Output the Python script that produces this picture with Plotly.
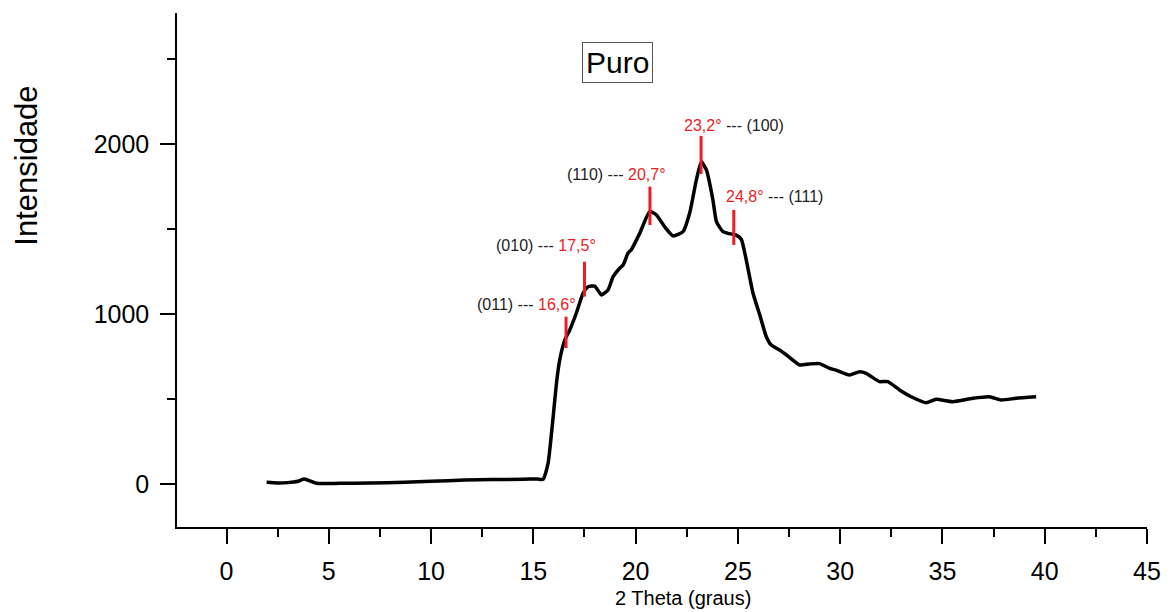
import plotly.graph_objects as go

# ---- data ----
two_theta = [1.96, 2.5, 3.0, 3.5, 3.8, 4.4, 5.5, 7.0, 8.7, 10.0, 11.65, 13.0, 14.5, 15.2, 15.48,
             15.72, 15.97, 16.13, 16.29, 16.54, 16.78, 17.1, 17.43, 17.68, 18.0, 18.33, 18.65,
             18.9, 19.22, 19.39, 19.63, 19.79, 20.2, 20.69, 21.02, 21.42, 21.83, 22.32, 22.64,
             22.97, 23.21, 23.46, 23.78, 23.95, 24.27, 24.51, 24.92, 25.17, 25.41, 25.74, 26.06,
             26.39, 26.63, 27.04, 27.37, 28.02, 28.5, 28.99, 29.48, 29.8, 30.46, 30.95, 31.27,
             31.92, 32.33, 32.9, 33.47, 34.21, 34.69, 35.5, 36.48, 37.3, 37.87, 38.6, 39.58]
intensity = [12, 8, 10, 18, 31, 6, 6, 8, 12, 18, 25, 28, 30, 31, 30,
             124, 398, 594, 731, 849, 908, 1006, 1124, 1162, 1166, 1114, 1143,
             1221, 1271, 1290, 1360, 1380, 1476, 1604, 1584, 1515, 1461, 1486, 1594,
             1790, 1898, 1849, 1672, 1545, 1486, 1476, 1466, 1440, 1319, 1124, 1000,
             868, 819, 790, 761, 702, 708, 710, 682, 672, 643, 662, 653,
             604, 604, 555, 515, 480, 500, 486, 506, 515, 496, 506, 515]

peak_pos = [16.6, 17.5, 20.7, 23.2, 24.8]
peak_deg = ["16,6°", "17,5°", "20,7°", "23,2°", "24,8°"]
peak_hkl = ["(011)", "(010)", "(110)", "(100)", "(111)"]
mark_low = [802, 1104, 1525, 1825, 1408]
mark_high = [986, 1309, 1751, 2049, 1614]
label_x = [17.17, 18.15, 21.57, 22.25, 24.3]
label_y = [1055, 1404, 1820, 2113, 1690]
label_side = ["left", "left", "left", "right", "right"]

RED = "#ec1c24"
FONT = "Liberation Sans, Arial, sans-serif"

fig = go.Figure()
fig.add_trace(go.Scatter(x=two_theta, y=intensity, mode="lines",
                         line=dict(color="black", width=3.5, shape="spline", smoothing=0.5),
                         showlegend=False))

for p, lo, hi in zip(peak_pos, mark_low, mark_high):
    fig.add_shape(type="line", xref="x", yref="y", x0=p, x1=p, y0=lo, y1=hi,
                  line=dict(color=RED, width=3))

for deg, hkl, lx, ly, side in zip(peak_deg, peak_hkl, label_x, label_y, label_side):
    if side == "left":
        txt = f"{hkl} --- <span style='color:{RED}'>{deg}</span>"
        anchor = "right"
    else:
        txt = f"<span style='color:{RED}'>{deg}</span> --- {hkl}"
        anchor = "left"
    fig.add_annotation(x=lx, y=ly, xref="x", yref="y", text=txt, showarrow=False,
                       xanchor=anchor, yanchor="middle",
                       font=dict(family=FONT, size=16, color="#222222"))

# title box
fig.add_annotation(x=0.4541, y=0.9037, xref="paper", yref="paper", text="Puro",
                   showarrow=False, xanchor="center", yanchor="middle",
                   font=dict(family=FONT, size=30, color="black"),
                   bordercolor="#555555", borderwidth=1, borderpad=3, bgcolor="white")
# axis titles
fig.add_annotation(x=-0.1546, y=0.703, xref="paper", yref="paper", text="Intensidade",
                   showarrow=False, textangle=-90, xanchor="center", yanchor="middle",
                   font=dict(family=FONT, size=31, color="black"))
fig.add_annotation(x=0.5216, y=-0.138, xref="paper", yref="paper", text="2 Theta (graus)",
                   showarrow=False, xanchor="center", yanchor="middle",
                   font=dict(family=FONT, size=20, color="black"))

fig.update_layout(
    width=1173, height=612,
    margin=dict(l=177, r=26, t=13, b=85),
    paper_bgcolor="white", plot_bgcolor="white",
    font=dict(family=FONT, color="black"),
    xaxis=dict(range=[-2.42, 45], showline=True, linecolor="black", linewidth=1.5,
               showgrid=False, zeroline=False, ticks="outside", ticklen=15, tickwidth=1.5,
               tickcolor="black", tick0=0, dtick=5, ticklabelstandoff=6,
               tickfont=dict(family=FONT, size=25, color="black"),
               minor=dict(ticks="outside", ticklen=8, tickwidth=1.5, tickcolor="black", dtick=2.5, tick0=0)),
    yaxis=dict(range=[-251, 2772], showline=True, linecolor="black", linewidth=1.5,
               showgrid=False, zeroline=False, ticks="outside", ticklen=15, tickwidth=1.5,
               tickcolor="black", tick0=0, dtick=1000, ticklabelstandoff=6,
               tickfont=dict(family=FONT, size=25, color="black"),
               minor=dict(ticks="outside", ticklen=8, tickwidth=1.5, tickcolor="black", dtick=500, tick0=0)),
)

fig.write_html("out.html")
